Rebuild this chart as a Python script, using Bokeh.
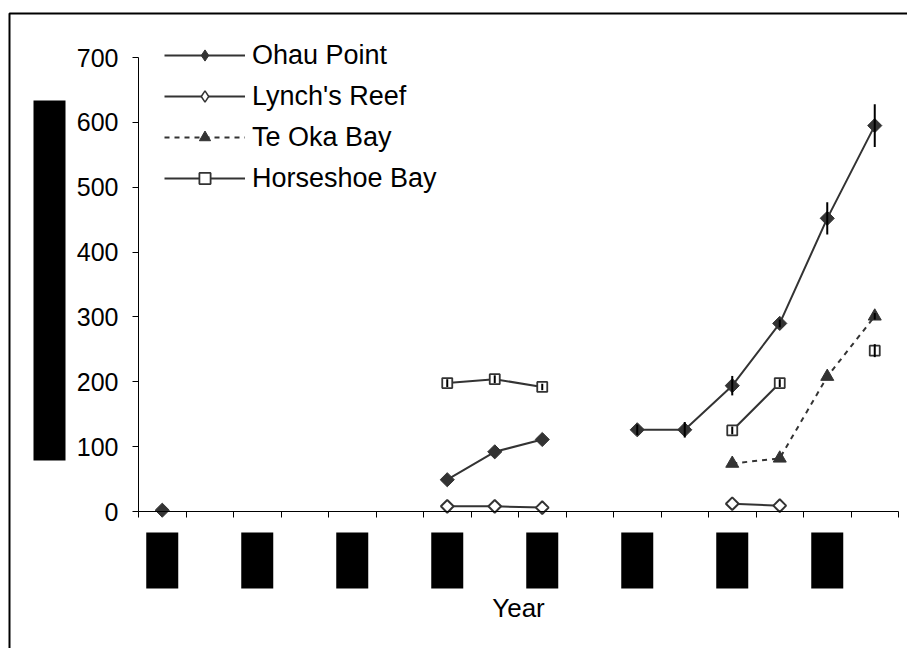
import numpy as np
from bokeh.plotting import figure
from bokeh.models import (Range1d, FixedTicker, BoxAnnotation, Legend, LegendItem, ColumnDataSource)
from bokeh.embed import file_html
from bokeh.resources import INLINE

nan = np.nan
# 16 sampling occasions (category index 0..15); the year tick labels are redacted (black boxes)
categories = list(range(16))
ohau = [2, nan, nan, nan, nan, nan, 49, 92, 111, nan, 126, 126, 194, 290, 452, 595]
ohau_err = [0, 0, 0, 0, 0, 0, 0, 0, 0, 0, 8, 12, 15, 6, 25, 33]
lynch = [nan, nan, nan, nan, nan, nan, 8, 8, 6, nan, nan, nan, 12, 9, nan, nan]
teoka = [nan, nan, nan, nan, nan, nan, nan, nan, nan, nan, nan, nan, 74, 82, 208, 301]
teoka_err = [0, 0, 0, 0, 0, 0, 0, 0, 0, 0, 0, 0, 0, 0, 0, 5]
horse = [nan, nan, nan, nan, nan, nan, 198, 204, 192, nan, nan, nan, 125, 198, nan, 248]
horse_err = [0, 0, 0, 0, 0, 0, 6, 6, 5, 0, 0, 0, 6, 6, 0, 10]
y_ticks = [0, 100, 200, 300, 400, 500, 600, 700]
label_cats = [0, 2, 4, 6, 8, 10, 12, 14]  # categories carrying (redacted) tick labels

FONT = "Liberation Sans"
DARK = "#333333"

# ---- layout geometry (pixels) ----
W, H = 907, 648
X0_PX, X1_PX = 138, 898      # x-axis extent
Y0_PX, Y700_PX = 511, 57     # pixel rows of y=0 and y=700
NCAT = len(categories)
px_per_cat = (X1_PX - X0_PX) / NCAT
px_per_unit = (Y0_PX - Y700_PX) / 700.0

def dx(px):  # page pixel column -> data x
    return (px - X0_PX) / px_per_cat

def dy(py):  # page pixel row -> data y
    return (Y0_PX - py) / px_per_unit

x = np.array(categories) + 0.5

p = figure(width=W, height=H, output_backend="svg", toolbar_location=None,
           x_range=Range1d(dx(0), dx(W)), y_range=Range1d(dy(H), dy(0)),
           min_border=0)
p.title.visible = False
p.grid.visible = False
p.outline_line_color = None

# axes (drawn at data zero, bounded to the data extent)
p.yaxis.fixed_location = 0
p.yaxis.bounds = (0, 700)
p.yaxis.ticker = FixedTicker(ticks=y_ticks)
p.yaxis.major_tick_in = 0
p.yaxis.major_tick_out = 6
p.yaxis.minor_tick_out = 0
p.yaxis.minor_tick_in = 0
p.yaxis.major_label_text_font = FONT
p.yaxis.major_label_text_font_size = "25px"
p.yaxis.major_label_text_color = "black"
p.yaxis.major_label_standoff = 14
p.yaxis.axis_line_color = "black"
p.yaxis.major_tick_line_color = "black"

p.xaxis.fixed_location = 0
p.xaxis.bounds = (0, NCAT)
p.xaxis.ticker = FixedTicker(ticks=list(range(NCAT + 1)))
p.xaxis.major_label_overrides = {i: "" for i in range(NCAT + 1)}
p.xaxis.major_tick_in = 0
p.xaxis.major_tick_out = 6
p.xaxis.minor_tick_out = 0
p.xaxis.axis_label = "Year"
p.xaxis.axis_label_text_font = FONT
p.xaxis.axis_label_text_font_size = "26px"
p.xaxis.axis_label_text_font_style = "normal"
p.xaxis.axis_label_text_color = "black"
p.xaxis.axis_label_standoff = 75
p.xaxis.axis_line_color = "black"
p.xaxis.major_tick_line_color = "black"

# series
r_ohau_l = p.line(x, ohau, line_color=DARK, line_width=2)
p.scatter(x, ohau, marker="square", angle=np.pi / 4, size=10, fill_color=DARK, line_color=DARK)
r_lynch_l = p.line(x, lynch, line_color=DARK, line_width=2)
p.scatter(x, lynch, marker="square", angle=np.pi / 4, size=9, fill_color="white",
          line_color=DARK, line_width=2)
r_teoka_l = p.line(x, teoka, line_color=DARK, line_width=2, line_dash="5 5")
r_teoka_m = p.scatter(x, teoka, marker="triangle", size=13, fill_color=DARK, line_color=DARK)
r_horse_l = p.line(x, horse, line_color=DARK, line_width=2)
r_horse_m = p.scatter(x, horse, marker="square", size=10, fill_color="white", line_color=DARK, line_width=1.8)

# error bars (drawn over the markers, as in the original)
def err_segments(vals, errs):
    v = np.array(vals, dtype=float)
    e = np.array(errs, dtype=float)
    m = (~np.isnan(v)) & (e > 0)
    return dict(x0=x[m], x1=x[m], y0=(v - e)[m], y1=(v + e)[m])

for vals, errs in [(ohau, ohau_err), (horse, horse_err), (teoka, teoka_err)]:
    p.segment(source=ColumnDataSource(err_segments(vals, errs)), x0="x0", x1="x1", y0="y0", y1="y1",
              line_color="black", line_width=2)

# legend-only diamond keys (the legend draws markers unrotated); one off-screen NaN point each
r_ohau_key = p.scatter(x=[nan], y=[nan], marker="diamond", fill_color=DARK, line_color=DARK)
r_lynch_key = p.scatter(x=[nan], y=[nan], marker="diamond", fill_color="white", line_color=DARK, line_width=1.5)

legend = Legend(items=[
    LegendItem(label="Ohau Point", renderers=[r_ohau_l, r_ohau_key]),
    LegendItem(label="Lynch's Reef", renderers=[r_lynch_l, r_lynch_key]),
    LegendItem(label="Te Oka Bay", renderers=[r_teoka_l, r_teoka_m]),
    LegendItem(label="Horseshoe Bay", renderers=[r_horse_l, r_horse_m]),
], location=(164, H - 194))
legend.border_line_color = None
legend.background_fill_alpha = 0
legend.padding = 0
legend.margin = 0
legend.spacing = 9
legend.glyph_width = 81
legend.glyph_height = 28
legend.label_height = 32
legend.label_standoff = 7
legend.label_text_font = FONT
legend.label_text_font_size = "27px"
legend.label_text_color = "black"
p.add_layout(legend, "center")

# redacted label boxes (y-axis title and x tick labels)
p.add_layout(BoxAnnotation(left=dx(33), right=dx(65), top=dy(100), bottom=dy(460),
                           fill_color="black", fill_alpha=1, line_color=None, level="overlay"))
half_box = 16 / px_per_cat
for c in label_cats:
    p.add_layout(BoxAnnotation(left=c + 0.5 - half_box, right=c + 0.5 + half_box,
                               top=dy(532), bottom=dy(588),
                               fill_color="black", fill_alpha=1, line_color=None, level="overlay"))

# outer chart border (left and top edges visible)
p.add_layout(BoxAnnotation(left=dx(9), right=dx(W + 20), top=dy(13), bottom=dy(H + 20),
                           fill_alpha=0, line_color="black", line_alpha=1, line_width=2, level="overlay"))

open("out.html", "w").write(file_html(p, INLINE))
